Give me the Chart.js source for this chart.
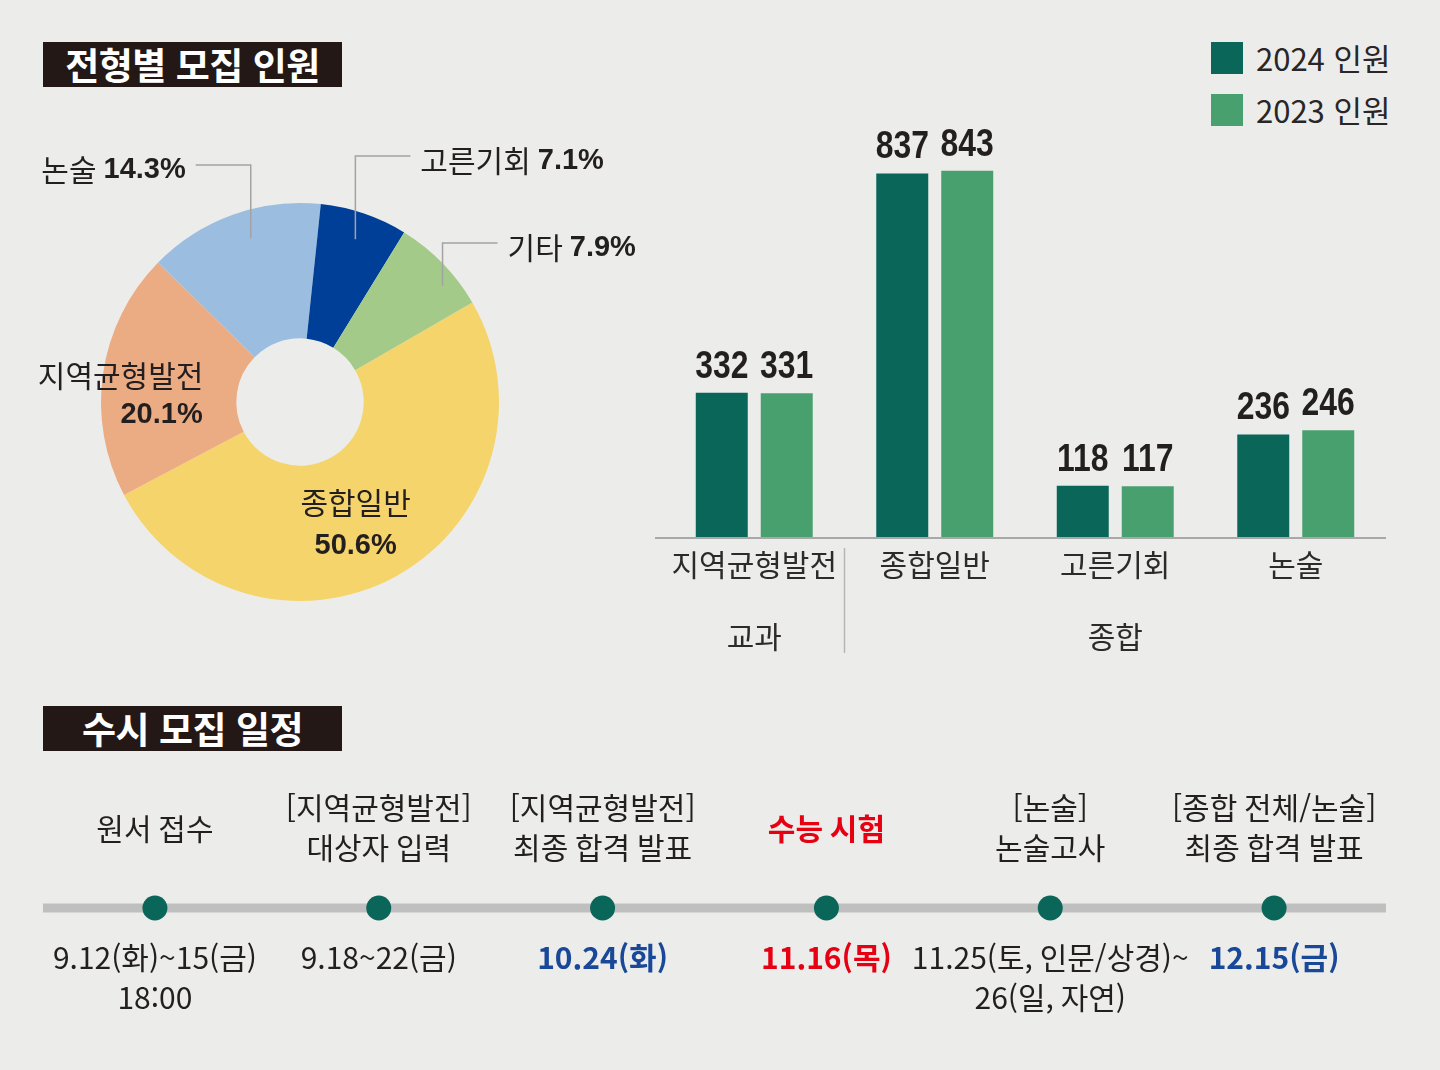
<!DOCTYPE html>
<html lang="ko">
<head>
<meta charset="utf-8">
<script src="https://cdn.jsdelivr.net/npm/chart.js@4.4.1/dist/chart.umd.min.js"></script>
<style>
body { margin: 0; background: #ecedeb; font-family: "Noto Sans CJK KR", sans-serif; color: #231f20; }
#page { position: relative; width: 1440px; height: 1070px; overflow: hidden; }
.titlebox { position: absolute; left: 43px; width: 299px; height: 45px; background: #231815; color: #fff;
  font-weight: 700; font-size: 37px; line-height: 45px; text-align: center; letter-spacing: -0.5px; }
canvas { position: absolute; }
.leg { position: absolute; left: 1211px; height: 32px; font-size: 31px; line-height: 32px; color: #2a2526; }
.leg span { display: inline-block; width: 32px; height: 32px; vertical-align: top; margin-right: 13px; }
</style>
</head>
<body>
<div id="page">
  <div class="titlebox" style="top:42px">전형별 모집 인원</div>
  <div class="titlebox" style="top:706px">수시 모집 일정</div>
  <div class="leg" style="top:42px"><span style="background:#0a6659"></span>2024 인원</div>
  <div class="leg" style="top:94px"><span style="background:#49a06f"></span>2023 인원</div>
  <canvas id="pie" width="660" height="560" style="left:0;top:100px"></canvas>
  <canvas id="bar" width="760" height="570" style="left:640px;top:100px"></canvas>
  <canvas id="timeline" width="1343" height="276" style="left:43px;top:770px"></canvas>
</div>
<script>
// 전형별 비율 (%)
const pieLabels = ['종합일반', '지역균형발전', '논술', '고른기회', '기타'];
const pieValues = [50.6, 20.1, 14.3, 7.1, 7.9];
const pieColors = ['#f5d46b', '#ecac83', '#9bbee0', '#003f97', '#a4ca8a'];

// 모집 인원
const barCategories = ['지역균형발전', '종합일반', '고른기회', '논술'];
const values2024 = [332, 837, 118, 236];
const values2023 = [331, 843, 117, 246];
const groupNames = ['교과', '종합'];
const groupSpans = [[0, 0], [1, 3]];

// 수시 일정
const eventTitles = [['원서 접수'], ['[지역균형발전]', '대상자 입력'], ['[지역균형발전]', '최종 합격 발표'],
  ['수능 시험'], ['[논술]', '논술고사'], ['[종합 전체/논술]', '최종 합격 발표']];
const eventDates = [['9.12(화)~15(금)', '18:00'], ['9.18~22(금)'], ['10.24(화)'], ['11.16(목)'],
  ['11.25(토, 인문/상경)~', '26(일, 자연)'], ['12.15(금)']];
const eventRow = [0, 0, 0, 0, 0, 0];

const DARK = '#231f20';
const KR = '"Noto Sans CJK KR"';
Chart.defaults.font.family = KR;

// label placement for the doughnut (offsets from each slice's middle)
const pieLabelStyle = [
  { r: 115, nx: 0, ny: 0, px: 0, py: 43 },
  { r: 150, nx: -31, ny: -5, px: 10, py: 35 },
  { r: 171, lineDy: -237, dir: -1, da: 3 },
  { r: 172, lineDy: -246, dir: 1 },
  { r: 184, lineDy: -159, dir: 1, da: 5 }
];

function pctFont(ctx) { ctx.font = 'bold 29px "Liberation Sans"'; }
function nameFont(ctx) { ctx.font = '30px ' + KR; }

const pieLabelPlugin = {
  id: 'pieLabelPlugin',
  afterDatasetsDraw(chart) {
    const ctx = chart.ctx;
    const meta = chart.getDatasetMeta(0);
    meta.data.forEach((arc, i) => {
      const st = pieLabelStyle[i];
      const mid = (arc.startAngle + arc.endAngle) / 2 + (st.da || 0) * Math.PI / 180;
      const ax = arc.x + Math.cos(mid) * st.r;
      const ay = arc.y + Math.sin(mid) * st.r;
      const pct = pieValues[i].toFixed(1) + '%';
      ctx.save();
      ctx.fillStyle = DARK;
      ctx.textBaseline = 'middle';
      if (st.lineDy === undefined) {
        ctx.textAlign = 'center';
        nameFont(ctx);
        ctx.fillText(pieLabels[i], ax + st.nx, ay + st.ny);
        pctFont(ctx);
        ctx.fillText(pct, ax + st.px, ay + st.py);
      } else {
        const ly = arc.y + st.lineDy;
        const ex = ax + st.dir * 55;
        ctx.strokeStyle = '#a3a3a3';
        ctx.lineWidth = 1.5;
        ctx.beginPath();
        ctx.moveTo(ax, ay);
        ctx.lineTo(ax, ly);
        ctx.lineTo(ex, ly);
        ctx.stroke();
        nameFont(ctx);
        const nw = ctx.measureText(pieLabels[i]).width;
        pctFont(ctx);
        const pw = ctx.measureText(pct).width;
        const ty = ly + 5;
        ctx.textAlign = 'left';
        const x0 = st.dir > 0 ? ex + 10 : ex - 10 - pw - 7 - nw;
        nameFont(ctx);
        ctx.fillText(pieLabels[i], x0, ty);
        pctFont(ctx);
        ctx.fillText(pct, x0 + nw + 7, ty);
      }
      ctx.restore();
    });
  }
};

new Chart(document.getElementById('pie'), {
  type: 'doughnut',
  data: {
    labels: pieLabels,
    datasets: [{ data: pieValues, backgroundColor: pieColors, borderWidth: 0 }]
  },
  options: {
    responsive: false,
    animation: false,
    rotation: 60,
    cutout: '32%',
    layout: { padding: { left: 101, right: 161, top: 103, bottom: 59 } },
    plugins: { legend: { display: false }, tooltip: { enabled: false } }
  },
  plugins: [pieLabelPlugin]
});

const barLabelPlugin = {
  id: 'barLabelPlugin',
  afterDatasetsDraw(chart) {
    const ctx = chart.ctx;
    const area = chart.chartArea;
    const xs = chart.scales.x;
    ctx.save();
    // baseline
    ctx.strokeStyle = '#a8a8a8';
    ctx.lineWidth = 2;
    ctx.beginPath();
    ctx.moveTo(area.left - 9, area.bottom + 1);
    ctx.lineTo(area.right, area.bottom + 1);
    ctx.stroke();
    // values above bars
    chart.data.datasets.forEach((ds, i) => {
      chart.getDatasetMeta(i).data.forEach((bar, j) => {
        ctx.save();
        ctx.translate(bar.x, bar.y - 15);
        ctx.scale(0.84, 1);
        ctx.font = 'bold 38px "Liberation Sans"';
        ctx.textAlign = 'center';
        ctx.textBaseline = 'alphabetic';
        ctx.fillStyle = DARK;
        ctx.fillText(String(ds.data[j]), 0, 0);
        ctx.restore();
      });
    });
    // category and group labels
    ctx.fillStyle = '#2d2a2b';
    ctx.font = '30px ' + KR;
    ctx.textAlign = 'center';
    ctx.textBaseline = 'middle';
    barCategories.forEach((c, j) => ctx.fillText(c, xs.getPixelForValue(j), area.bottom + 28));
    groupSpans.forEach((s, g) => {
      const gx = (xs.getPixelForValue(s[0]) + xs.getPixelForValue(s[1])) / 2;
      ctx.fillText(groupNames[g], gx, area.bottom + 100);
    });
    // separator between groups
    const sx = (xs.getPixelForValue(groupSpans[0][1]) + xs.getPixelForValue(groupSpans[1][0])) / 2;
    ctx.strokeStyle = '#b4b4b4';
    ctx.lineWidth = 1.5;
    ctx.beginPath();
    ctx.moveTo(sx, area.bottom + 11);
    ctx.lineTo(sx, area.bottom + 116);
    ctx.stroke();
    ctx.restore();
  }
};

new Chart(document.getElementById('bar'), {
  type: 'bar',
  data: {
    labels: barCategories,
    datasets: [
      { label: '2024 인원', data: values2024, backgroundColor: '#0a6659' },
      { label: '2023 인원', data: values2023, backgroundColor: '#49a06f' }
    ]
  },
  options: {
    responsive: false,
    animation: false,
    categoryPercentage: 0.72,
    barPercentage: 0.8,
    layout: { padding: { left: 24, right: 14, top: 0, bottom: 133 } },
    scales: {
      x: { display: false },
      y: { display: false, min: 0, max: 1006 }
    },
    plugins: { legend: { display: false }, tooltip: { enabled: false } }
  },
  plugins: [barLabelPlugin]
});

const timelinePlugin = {
  id: 'timelinePlugin',
  beforeDatasetsDraw(chart) {
    const ctx = chart.ctx;
    const area = chart.chartArea;
    const y = chart.scales.y.getPixelForValue(0);
    ctx.save();
    ctx.strokeStyle = '#bfbfbf';
    ctx.lineWidth = 9;
    ctx.beginPath();
    ctx.moveTo(area.left, y);
    ctx.lineTo(area.right, y);
    ctx.stroke();
    ctx.restore();
  },
  afterDatasetsDraw(chart) {
    const ctx = chart.ctx;
    const y = chart.scales.y.getPixelForValue(0);
    ctx.save();
    ctx.textAlign = 'center';
    ctx.textBaseline = 'middle';
    chart.getDatasetMeta(0).data.forEach((pt, i) => {
      const top = eventTitles[i];
      const exam = i === 3;
      ctx.font = (exam ? 'bold ' : '') + '30px ' + KR;
      ctx.fillStyle = exam ? '#e60012' : DARK;
      if (top.length === 1) {
        ctx.fillText(top[0], pt.x, y - 79);
      } else {
        ctx.fillText(top[0], pt.x, y - 100);
        ctx.fillText(top[1], pt.x, y - 60);
      }
      const dates = eventDates[i];
      let color = DARK, bold = false;
      if (i === 2 || i === 5) { color = '#1a4898'; bold = true; }
      if (i === 3) { color = '#e60012'; bold = true; }
      ctx.font = (bold ? 'bold ' : '') + '30px ' + KR;
      ctx.fillStyle = color;
      dates.forEach((d, k) => ctx.fillText(d, pt.x, y + 50 + k * 40));
    });
    ctx.restore();
  }
};

new Chart(document.getElementById('timeline'), {
  type: 'line',
  data: {
    labels: eventTitles.map(t => t.join(' ')),
    datasets: [{
      data: eventRow,
      showLine: false,
      pointRadius: 12.5,
      pointBackgroundColor: '#0a6659',
      pointBorderWidth: 0
    }]
  },
  options: {
    responsive: false,
    animation: false,
    layout: { padding: 0, autoPadding: false },
    scales: {
      x: { display: false, offset: true },
      y: { display: false, min: -1, max: 1 }
    },
    plugins: { legend: { display: false }, tooltip: { enabled: false } }
  },
  plugins: [timelinePlugin]
});
</script>
</body>
</html>
